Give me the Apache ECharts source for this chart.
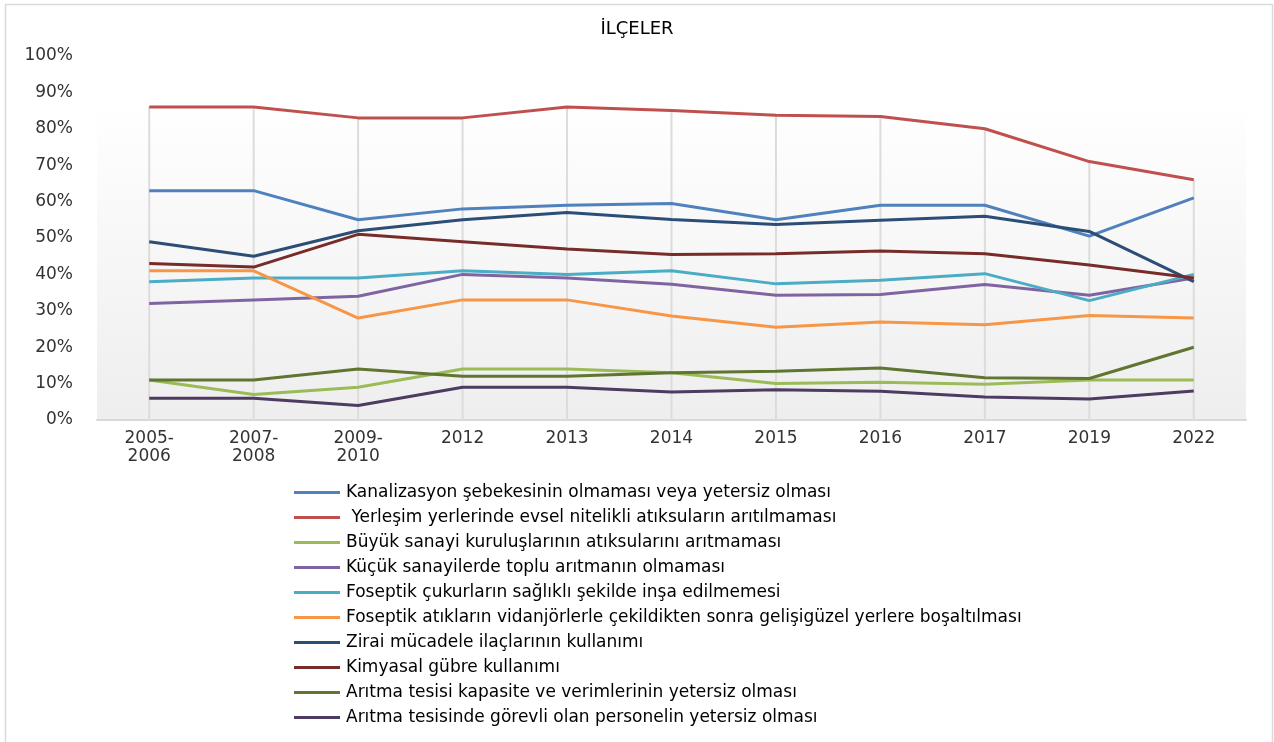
<!DOCTYPE html>
<html>
<head>
<meta charset="utf-8">
<script src="https://cdn.jsdelivr.net/npm/echarts@6/dist/echarts.min.js"></script>
<style>
  html, body { margin: 0; padding: 0; background: #fff; }
  #main { width: 1274px; height: 742px; }
</style>
</head>
<body>
<div id="main"></div>
<script>
// kategoriler (yillar)
var years = ['2005-\n2006', '2007-\n2008', '2009-\n2010', '2012', '2013', '2014', '2015', '2016', '2017', '2019', '2022'];

// seri degerleri (%)
var kanalizasyon = [63, 63, 55, 58, 59, 59.5, 55, 59, 59, 50.5, 61];
var yerlesim      = [86, 86, 83, 83, 86, 85, 83.7, 83.4, 80, 71, 66];
var buyukSanayi   = [11, 7, 9, 14, 14, 13, 10, 10.4, 9.8, 11, 11];
var kucukSanayi   = [32, 33, 34, 40, 39, 37.3, 34.3, 34.5, 37.2, 34.3, 39];
var foseptikCukur = [38, 39, 39, 41, 40, 41, 37.4, 38.4, 40.2, 32.8, 40];
var foseptikAtik  = [41, 41, 28, 33, 33, 28.6, 25.5, 26.9, 26.2, 28.7, 28];
var ziraiIlac     = [49, 45, 52, 55, 57, 55.1, 53.7, 54.9, 56, 51.8, 38];
var kimyasalGubre = [43, 42, 51, 49, 47, 45.5, 45.7, 46.4, 45.7, 42.6, 39];
var aritmaKapasite = [11, 11, 14, 12, 12, 13, 13.4, 14.3, 11.6, 11.4, 20];
var aritmaPersonel = [6, 6, 4, 9, 9, 7.7, 8.3, 7.9, 6.3, 5.8, 8];

var yTicks = [0, 10, 20, 30, 40, 50, 60, 70, 80, 90, 100];

var seriesDefs = [
    { name: 'Kanalizasyon şebekesinin olmaması veya yetersiz olması', data: kanalizasyon, color: '#4F81BD' },
    { name: ' Yerleşim yerlerinde evsel nitelikli atıksuların arıtılmaması', data: yerlesim, color: '#C0504D' },
    { name: 'Büyük sanayi kuruluşlarının atıksularını arıtmaması', data: buyukSanayi, color: '#9BBB59' },
    { name: 'Küçük sanayilerde toplu arıtmanın olmaması', data: kucukSanayi, color: '#8064A2' },
    { name: 'Foseptik çukurların sağlıklı şekilde inşa edilmemesi', data: foseptikCukur, color: '#4BACC6' },
    { name: 'Foseptik atıkların vidanjörlerle çekildikten sonra gelişigüzel yerlere boşaltılması', data: foseptikAtik, color: '#F79646' },
    { name: 'Zirai mücadele ilaçlarının kullanımı', data: ziraiIlac, color: '#2C4D75' },
    { name: 'Kimyasal gübre kullanımı', data: kimyasalGubre, color: '#772C2A' },
    { name: 'Arıtma tesisi kapasite ve verimlerinin yetersiz olması', data: aritmaKapasite, color: '#5F7530' },
    { name: 'Arıtma tesisinde görevli olan personelin yetersiz olması', data: aritmaPersonel, color: '#4D3B62' }
];

// dusey cizgiler: her kategoride en yuksek degere kadar
var dropLine = years.map(function (y, i) {
    return Math.max.apply(null, seriesDefs.map(function (s) { return s.data[i]; }));
});

var series = [{
    name: 'drop',
    type: 'bar',
    data: dropLine,
    barWidth: 2,
    silent: true,
    z: 1,
    itemStyle: { color: '#dcdcdc' }
}];
seriesDefs.forEach(function (s) {
    series.push({
        name: s.name,
        type: 'line',
        data: s.data,
        symbol: 'none',
        z: 3,
        lineStyle: { color: s.color, width: 3 },
        itemStyle: { color: s.color }
    });
});

var font = 'DejaVu Sans';

var option = {
    animation: false,
    backgroundColor: '#fff',
    title: {
        text: 'İLÇELER',
        left: 'center',
        top: 15,
        textStyle: { fontFamily: font, fontSize: 18, fontWeight: 'normal', color: '#000' }
    },
    graphic: [
        {
            type: 'rect', z: -10, silent: true,
            shape: { x: 5.5, y: 4.5, width: 1267, height: 760 },
            style: { fill: 'none', stroke: '#d9d9d9', lineWidth: 1.5 }
        },
        {
            type: 'rect', z: -5, silent: true,
            shape: { x: 97, y: 100, width: 1149, height: 320 },
            style: {
                fill: new echarts.graphic.LinearGradient(0, 0, 0, 1, [
                    { offset: 0, color: '#ffffff' },
                    { offset: 1, color: '#eeeeee' }
                ])
            }
        }
    ],
    legend: {
        orient: 'vertical',
        left: 289,
        top: 479,
        icon: 'rect',
        itemWidth: 46,
        itemHeight: 3,
        itemGap: 8,
        data: seriesDefs.map(function (s) {
            return { name: s.name, icon: 'rect', itemStyle: { color: s.color } };
        }),
        textStyle: { fontFamily: font, fontSize: 17, lineHeight: 17, color: '#000', padding: [0, 0, 0, 1] }
    },
    grid: { left: 97, right: 28, top: 56, bottom: 322, containLabel: false },
    xAxis: {
        type: 'category',
        data: years,
        boundaryGap: true,
        axisLine: { lineStyle: { color: '#d9d9d9', width: 2 } },
        axisTick: { show: false },
        axisLabel: { fontFamily: font, fontSize: 17, color: '#333', margin: 10, lineHeight: 18 }
    },
    yAxis: {
        type: 'value',
        min: yTicks[0],
        max: yTicks[yTicks.length - 1],
        interval: 10,
        axisLine: { show: false },
        axisTick: { show: false },
        splitLine: { show: false },
        axisLabel: { fontFamily: font, fontSize: 17, color: '#333', margin: 24, formatter: '{value}%' }
    },
    series: series
};

var myChart = echarts.init(document.getElementById('main'));
myChart.setOption(option);
</script>
</body>
</html>
